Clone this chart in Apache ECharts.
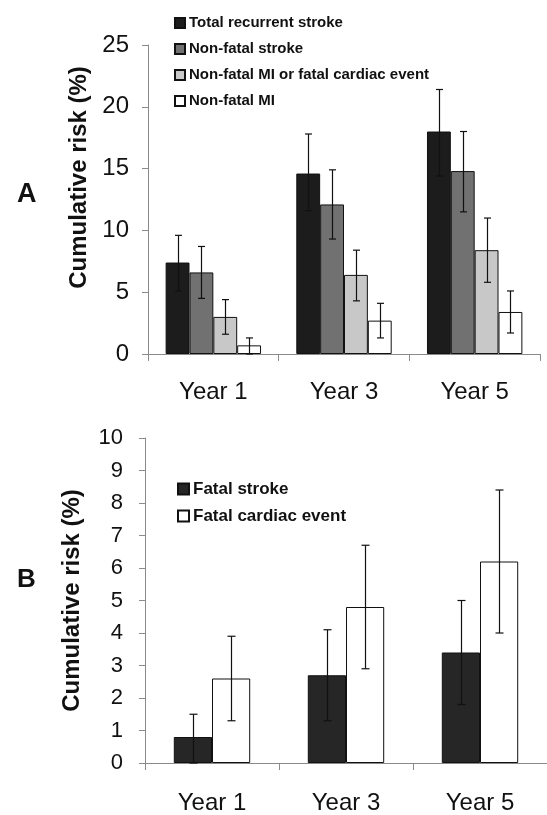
<!DOCTYPE html>
<html>
<head>
<meta charset="utf-8">
<script src="https://cdn.jsdelivr.net/npm/echarts@6/dist/echarts.min.js"></script>
<style>
html,body{margin:0;padding:0;background:#fff;}
#chart{width:547px;height:815px;}
</style>
</head>
<body>
<div id="chart"></div>
<script>
// ---- Data ----
const categories = ['Year 1', 'Year 3', 'Year 5'];

// Panel A
const totalStroke     = [7.4, 14.6, 18.0];
const totalStrokeLo   = [5.1, 11.6, 14.4];
const totalStrokeHi   = [9.6, 17.8, 21.4];
const nonFatalStroke   = [6.6, 12.1, 14.8];
const nonFatalStrokeLo = [4.5, 9.3, 11.5];
const nonFatalStrokeHi = [8.7, 14.9, 18.0];
const miOrCardiac   = [3.0, 6.4, 8.4];
const miOrCardiacLo = [1.6, 4.3, 5.8];
const miOrCardiacHi = [4.4, 8.4, 11.0];
const nonFatalMI   = [0.7, 2.7, 3.4];
const nonFatalMILo = [0.0, 1.3, 1.7];
const nonFatalMIHi = [1.3, 4.1, 5.1];

// Panel B
const fatalStroke   = [0.8, 2.7, 3.4];
const fatalStrokeLo = [0.0, 1.3, 1.8];
const fatalStrokeHi = [1.5, 4.1, 5.0];
const fatalCardiac   = [2.6, 4.8, 6.2];
const fatalCardiacLo = [1.3, 2.9, 4.0];
const fatalCardiacHi = [3.9, 6.7, 8.4];

const ticksA = [0, 5, 10, 15, 20, 25];
const ticksB = [0, 1, 2, 3, 4, 5, 6, 7, 8, 9, 10];

// ---- Styling ----
const FONT = '"Liberation Sans", Arial, Helvetica, sans-serif';
const AXIS_GRAY = '#8a8a8a';
const GAP_A = 0.27, GAP_B = 0.43;

function errSeries(name, grid, idx, n, gap, lo, hi, capHalf) {
  return {
    type: 'custom',
    name: name,
    xAxisIndex: grid, yAxisIndex: grid,
    z: 10,
    silent: true,
    data: categories.map((c, i) => [i, lo[i], hi[i]]),
    renderItem: function (params, api) {
      const ci = api.value(0);
      const x0 = api.coord([ci, 0])[0];
      const band = api.size([1, 0])[0];
      const bw = band * (1 - gap) / n;
      const cx = Math.round(x0 + (idx - (n - 1) / 2) * bw) + 0.5;
      const yLo = api.coord([ci, api.value(1)])[1];
      const yHi = api.coord([ci, api.value(2)])[1];
      const st = { stroke: '#111', lineWidth: 1.2 };
      return {
        type: 'group',
        children: [
          { type: 'line', shape: { x1: cx, y1: yLo, x2: cx, y2: yHi }, style: st },
          { type: 'line', shape: { x1: cx - capHalf, y1: yHi, x2: cx + capHalf, y2: yHi }, style: st },
          { type: 'line', shape: { x1: cx - capHalf, y1: yLo, x2: cx + capHalf, y2: yLo }, style: st }
        ]
      };
    }
  };
}

function barSeries(name, grid, data, color, gap) {
  return {
    type: 'bar',
    name: name,
    xAxisIndex: grid, yAxisIndex: grid,
    data: data,
    barGap: '0%',
    barCategoryGap: (gap * 100) + '%',
    itemStyle: { color: color, borderColor: '#111', borderWidth: 1 },
    emphasis: { disabled: true },
    animation: false
  };
}

const yAxisCommon = {
  type: 'value',
  axisLine: { show: true, lineStyle: { color: AXIS_GRAY, width: 1 } },
  axisTick: { show: true, inside: false, length: 6, lineStyle: { color: AXIS_GRAY } },
  splitLine: { show: false },
  nameLocation: 'middle',
  nameRotate: 90
};

const xAxisCommon = {
  type: 'category',
  data: categories,
  axisLine: { show: true, lineStyle: { color: AXIS_GRAY, width: 1 } },
  axisTick: { show: true, inside: false, length: 7, alignWithLabel: false, lineStyle: { color: AXIS_GRAY } },
  axisLabel: { interval: 0, fontFamily: FONT, fontSize: 24, color: '#111', margin: 26 }
};

const option = {
  animation: false,
  backgroundColor: '#fff',
  title: [
    { text: 'A', left: 12, top: 176, textStyle: { fontFamily: FONT, fontWeight: 'bold', fontSize: 27, color: '#111' } },
    { text: 'B', left: 12, top: 562, textStyle: { fontFamily: FONT, fontWeight: 'bold', fontSize: 26, color: '#111' } }
  ],
  legend: [
    {
      orient: 'vertical', left: 169, top: 10,
      itemWidth: 10, itemHeight: 10, itemGap: 10,
      icon: 'rect',
      selectedMode: false,
      data: ['Total recurrent stroke', 'Non-fatal stroke', 'Non-fatal MI or fatal cardiac event', 'Non-fatal MI'],
      textStyle: { fontFamily: FONT, fontWeight: 'bold', fontSize: 15, color: '#111', lineHeight: 16, padding: [0, 0, 0, -1] }
    },
    {
      orient: 'vertical', left: 172, top: 475,
      itemWidth: 11, itemHeight: 11, itemGap: 9,
      icon: 'rect',
      selectedMode: false,
      data: ['Fatal stroke', 'Fatal cardiac event'],
      textStyle: { fontFamily: FONT, fontWeight: 'bold', fontSize: 17, color: '#111', lineHeight: 18, padding: [0, 0, 0, -1] }
    }
  ],
  grid: [
    { left: 148, top: 45, width: 392, height: 309 },
    { left: 145, top: 438, width: 407, height: 329 }
  ],
  xAxis: [
    Object.assign({}, xAxisCommon, { gridIndex: 0 }),
    Object.assign({}, xAxisCommon, { gridIndex: 1, axisLabel: Object.assign({}, xAxisCommon.axisLabel, { margin: 28 }) })
  ],
  yAxis: [
    Object.assign({}, yAxisCommon, {
      gridIndex: 0, min: ticksA[0], max: ticksA[ticksA.length - 1], interval: ticksA[1] - ticksA[0],
      name: 'Cumulative risk (%)', nameGap: 55,
      nameTextStyle: { fontFamily: FONT, fontWeight: 'bold', fontSize: 24, color: '#111', padding: [0, 0, 0, 44] },
      axisLabel: { fontFamily: FONT, fontSize: 24, color: '#111', margin: 19 }
    }),
    Object.assign({}, yAxisCommon, {
      gridIndex: 1, min: ticksB[0], max: ticksB[ticksB.length - 1], interval: ticksB[1] - ticksB[0],
      name: 'Cumulative risk (%)', nameGap: 61,
      nameTextStyle: { fontFamily: FONT, fontWeight: 'bold', fontSize: 24, color: '#111' },
      axisLabel: { fontFamily: FONT, fontSize: 22, color: '#111', margin: 22 }
    })
  ],
  series: [
    barSeries('Total recurrent stroke', 0, totalStroke, '#1c1c1c', GAP_A),
    barSeries('Non-fatal stroke', 0, nonFatalStroke, '#717171', GAP_A),
    barSeries('Non-fatal MI or fatal cardiac event', 0, miOrCardiac, '#c8c8c8', GAP_A),
    barSeries('Non-fatal MI', 0, nonFatalMI, '#ffffff', GAP_A),
    errSeries('e1', 0, 0, 4, GAP_A, totalStrokeLo, totalStrokeHi, 3.5),
    errSeries('e2', 0, 1, 4, GAP_A, nonFatalStrokeLo, nonFatalStrokeHi, 3.5),
    errSeries('e3', 0, 2, 4, GAP_A, miOrCardiacLo, miOrCardiacHi, 3.5),
    errSeries('e4', 0, 3, 4, GAP_A, nonFatalMILo, nonFatalMIHi, 3.5),
    barSeries('Fatal stroke', 1, fatalStroke, '#262626', GAP_B),
    barSeries('Fatal cardiac event', 1, fatalCardiac, '#ffffff', GAP_B),
    errSeries('e5', 1, 0, 2, GAP_B, fatalStrokeLo, fatalStrokeHi, 4),
    errSeries('e6', 1, 1, 2, GAP_B, fatalCardiacLo, fatalCardiacHi, 4)
  ]
};

const chart = echarts.init(document.getElementById('chart'), null, { renderer: 'canvas' });
chart.setOption(option);
</script>
</body>
</html>
